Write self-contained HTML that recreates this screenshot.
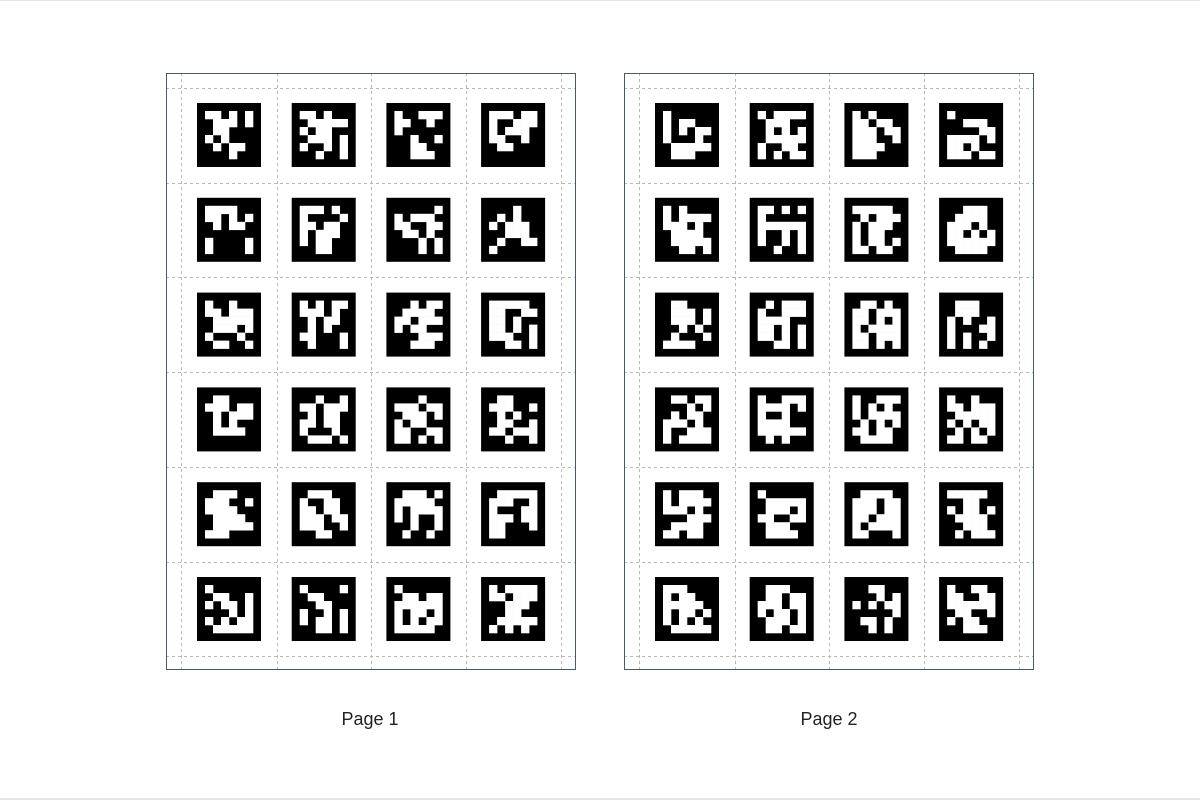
<!DOCTYPE html>
<html><head><meta charset="utf-8"><style>
html,body{margin:0;padding:0;background:#fff;}
#root{position:relative;width:1200px;height:800px;overflow:hidden;background:#fff;box-sizing:border-box;border-top:1px solid #e6e6e6;border-bottom:2px solid #e6e6e6;}
.label{position:absolute;font-family:"Liberation Sans",sans-serif;font-size:18px;color:#222;transform:translateX(-50%);top:708px;}
</style></head><body>
<div id="root">
<svg id="svg" width="1200" height="800" style="position:absolute;left:0;top:0"></svg>
<div class="label" style="left:370px">Page 1</div>
<div class="label" style="left:829px">Page 2</div>
</div>
<script>
const pageOneMarkers=[
["110101","011101","011000","101000","010110","000100"],
["110100","011111","101100","011101","100101","001001"],
["100111","110010","100000","001001","001100","001110"],
["111011","100111","101110","110010","011000","000000"],
["111100","110101","010110","000000","100001","100001"],
["111010","100001","110110","101110","101100","001100"],
["000001","101110","110011","011010","000101","000101"],
["000100","010100","101110","001110","010011","100000"],
["100100","110111","011111","011101","100010","011001"],
["101011","111010","010110","010100","110001","010001"],
["001011","011110","110111","101100","000111","001110"],
["111110","110011","110100","110101","111001","001101"],
["011000","111011","010111","010100","011110","000000"],
["001001","110111","010110","110110","100010","011101"],
["000100","111011","011101","101100","110011","110101"],
["011000","111001","010100","011001","110111","001001"],
["011100","111001","111100","011110","011111","111000"],
["011100","100110","110110","111011","111001","001100"],
["011101","111110","101111","101001","001001","010010"],
["011111","111001","100011","111011","110001","110000"],
["100000","011001","101101","000101","101011","011111"],
["100001","011000","001100","100101","101101","001101"],
["100000","011011","111111","101101","101011","111110"],
["101111","110111","001110","001100","011111","101010"]
];
const pageTwoMarkers=[
["100000","101100","101011","100010","011111","011100"],
["101111","011100","010101","011111","100110","101011"],
["101000","110110","111011","111001","111100","111000"],
["100000","001110","000011","111101","110100","111011"],
["101000","101111","111010","011110","011111","001101"],
["110101","100000","111111","100101","100101","001001"],
["111110","010111","101110","101100","101101","110110"],
["001110","011110","111010","110101","111111","011110"],
["011000","011101","011101","001010","010001","111100"],
["010111","100111","111100","110101","110101","001101"],
["011010","110111","110101","101111","110111","110101"],
["011100","011100","101001","100011","101001","101010"],
["011011","000101","010110","111010","100111","101111"],
["100111","111101","100100","111100","111111","010100"],
["100111","101010","101111","010101","110110","011110"],
["100100","110111","011111","101011","010101","110110"],
["101110","101111","111010","000111","011110","110110"],
["100000","011111","011101","110011","011100","011110"],
["011110","111011","111011","110111","101111","110001"],
["111110","001100","101101","011110","001110","010111"],
["111000","101100","111110","101101","101010","011111"],
["011100","011011","111011","101101","011101","011011"],
["001100","000101","101011","000001","011010","001010"],
["100110","110011","111111","011001","101100","001110"]
];
const pageLefts=[166,624];
const NS="http://www.w3.org/2000/svg";
const svg=document.getElementById('svg');
function mk(tag,attrs,parent){const e=document.createElementNS(NS,tag);for(const k in attrs)e.setAttribute(k,attrs[k]);(parent||svg).appendChild(e);return e;}
[pageOneMarkers,pageTwoMarkers].forEach((markers,p)=>{
  const L=pageLefts[p],T=72;
  const g=mk('g',{});
  
  
  const vx=[15,111,205,300,395];
  vx.forEach(dx=>{const l=mk('line',{x1:L+dx+0.5,y1:T,x2:L+dx+0.5,y2:T+597,stroke:'#b8b8b8','stroke-dasharray':'3,3','stroke-width':1},g);
    
    });
  const hy=[15,110,204,299,394,489,583];
  hy.forEach(dy=>{const l=mk('line',{x1:L,y1:T+dy+0.5,x2:L+410,y2:T+dy+0.5,stroke:'#b8b8b8','stroke-dasharray':'3,3','stroke-width':1},g);
    
    });
  const b=mk('rect',{x:L+0.5,y:T+0.5,width:409,height:596,fill:'none',stroke:'#4a5a66','stroke-width':1},g);
  
  
  markers.forEach((m,i)=>{
    const r=Math.floor(i/4),c=i%4;
    const x=L+31+c*94.7,y=T+30+r*94.8;
    const mg=mk('g',{},g);
    
    
    mk('rect',{x:x,y:y,width:64,height:64,fill:'#000'},mg);
    m.forEach((row,ri)=>{for(let ci=0;ci<6;ci++){if(row[ci]==='1'){mk('rect',{x:x+8+ci*8,y:y+8+ri*8,width:8.3,height:8.3,fill:'#fff'},mg);}}});
  });
});
</script>
</body></html>
